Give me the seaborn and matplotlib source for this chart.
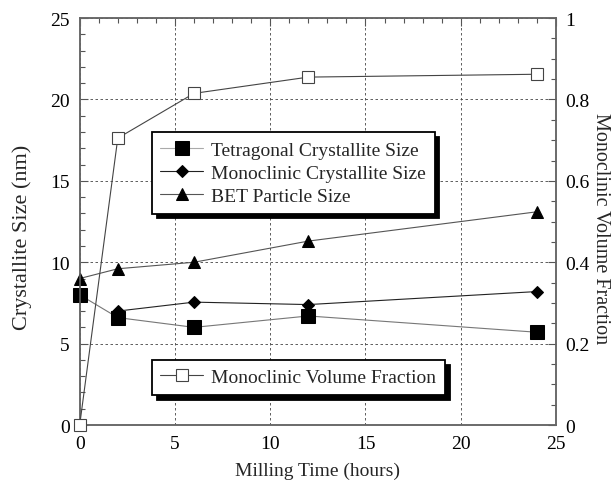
import matplotlib
matplotlib.use("Agg")
import matplotlib.pyplot as plt
from matplotlib.ticker import MultipleLocator, FixedLocator
import seaborn as sns

# Milling times (hours)
hours = [0, 2, 6, 12, 24]
hours_mono = [2, 6, 12, 24]

# Crystallite / particle sizes (nm)
tetragonal_size = [8.0, 6.6, 6.0, 6.7, 5.7]
monoclinic_size = [7.0, 7.55, 7.4, 8.2]
bet_size = [9.0, 9.6, 10.0, 11.3, 13.1]

# Monoclinic volume fraction
mono_fraction = [0.0, 0.705, 0.815, 0.855, 0.862]

sns.set_theme(style="white")
plt.rcParams["font.family"] = ["Liberation Serif", "DejaVu Serif"]

FS = 14

fig = plt.figure(figsize=(6.13, 4.81), dpi=100)
ax = fig.add_axes([0.130, 0.1143, 0.777, 0.846])
ax2 = ax.twinx()

line_w = 0.8
sns.lineplot(x=hours, y=tetragonal_size, ax=ax, color="#777777", lw=line_w,
             marker="s", markersize=9.5, markerfacecolor="black",
             markeredgecolor="black", clip_on=False, zorder=5,
             label="Tetragonal Crystallite Size")
sns.lineplot(x=hours_mono, y=monoclinic_size, ax=ax, color="#222222", lw=line_w,
             marker="D", markersize=6.5, markerfacecolor="black",
             markeredgecolor="black", clip_on=False, zorder=5,
             label="Monoclinic Crystallite Size")
sns.lineplot(x=hours, y=bet_size, ax=ax, color="#555555", lw=line_w,
             marker="^", markersize=8, markerfacecolor="black",
             markeredgecolor="black", clip_on=False, zorder=5,
             label="BET Particle Size")
sns.lineplot(x=hours, y=mono_fraction, ax=ax2, color="#444444", lw=line_w,
             marker="s", markersize=8, markerfacecolor="white",
             markeredgecolor="#444444", markeredgewidth=0.8, clip_on=False,
             zorder=5, label="Monoclinic Volume Fraction")

ax.set_xlim(0, 25)
ax.set_ylim(0, 25)
ax2.set_ylim(0, 1)

ax.xaxis.set_major_locator(MultipleLocator(5))
ax.xaxis.set_minor_locator(MultipleLocator(1))
ax.yaxis.set_major_locator(MultipleLocator(5))
ax.yaxis.set_minor_locator(MultipleLocator(1))
ax2.yaxis.set_major_locator(FixedLocator([0, 0.2, 0.4, 0.6, 0.8, 1.0]))
ax2.yaxis.set_minor_locator(MultipleLocator(0.05))
ax2.set_yticklabels(["0", "0.2", "0.4", "0.6", "0.8", "1"])

ax.tick_params(axis="both", which="both", direction="in", colors="#555555",
               labelcolor="black", labelsize=FS, top=True, right=False)
ax.tick_params(which="major", length=6, width=0.8, pad=7)
ax.tick_params(which="minor", length=3.5, width=0.8)
ax2.tick_params(axis="y", which="both", direction="in", colors="#555555",
                labelcolor="black", labelsize=FS, left=False, right=True)
ax2.tick_params(which="major", length=6, width=0.8, pad=7)
ax2.tick_params(which="minor", length=3.5, width=0.8)

ax.grid(True, which="major", color="#444444", lw=0.6, linestyle=(0, (3, 3)))
ax2.grid(False)

for a in (ax, ax2):
    for s in a.spines.values():
        s.set_color("#666666")
        s.set_linewidth(1.1)

ax.set_xlabel("Milling Time (hours)", fontsize=FS, labelpad=7)
ax.set_ylabel("Crystallite Size (nm)", fontsize=16)
ax.yaxis.set_label_coords(-0.100, 0.464)
ax2.set_ylabel("Monoclinic Volume Fraction", fontsize=14.5, rotation=270,
               va="bottom", ha="center")
ax2.yaxis.set_label_coords(1.0725, 0.485)

shadow = {"ox": 3.5, "oy": -3.5, "color": "black", "alpha": 1}
leg_kw = dict(loc="upper left", fontsize=FS, frameon=True, fancybox=False,
              shadow=shadow, borderaxespad=0, handlelength=2.2,
              handletextpad=0.4, borderpad=0.45, labelspacing=0.28,
              bbox_transform=fig.transFigure)

h1, l1 = ax.get_legend_handles_labels()
leg1 = ax.legend(h1, l1, bbox_to_anchor=(0.2475, 0.7229), **leg_kw)
h2, l2 = ax2.get_legend_handles_labels()
leg2 = ax2.legend(h2, l2, bbox_to_anchor=(0.2475, 0.250), **leg_kw)
for lg in (leg1, leg2):
    fr = lg.get_frame()
    fr.set_edgecolor("black")
    fr.set_linewidth(1.3)
    fr.set_facecolor("white")
    fr.set_alpha(1)
# the legend line for the tetragonal series is drawn lighter
leg1.get_lines()[0].set_color("#aaaaaa")

fig.savefig("out.png", dpi=100)
